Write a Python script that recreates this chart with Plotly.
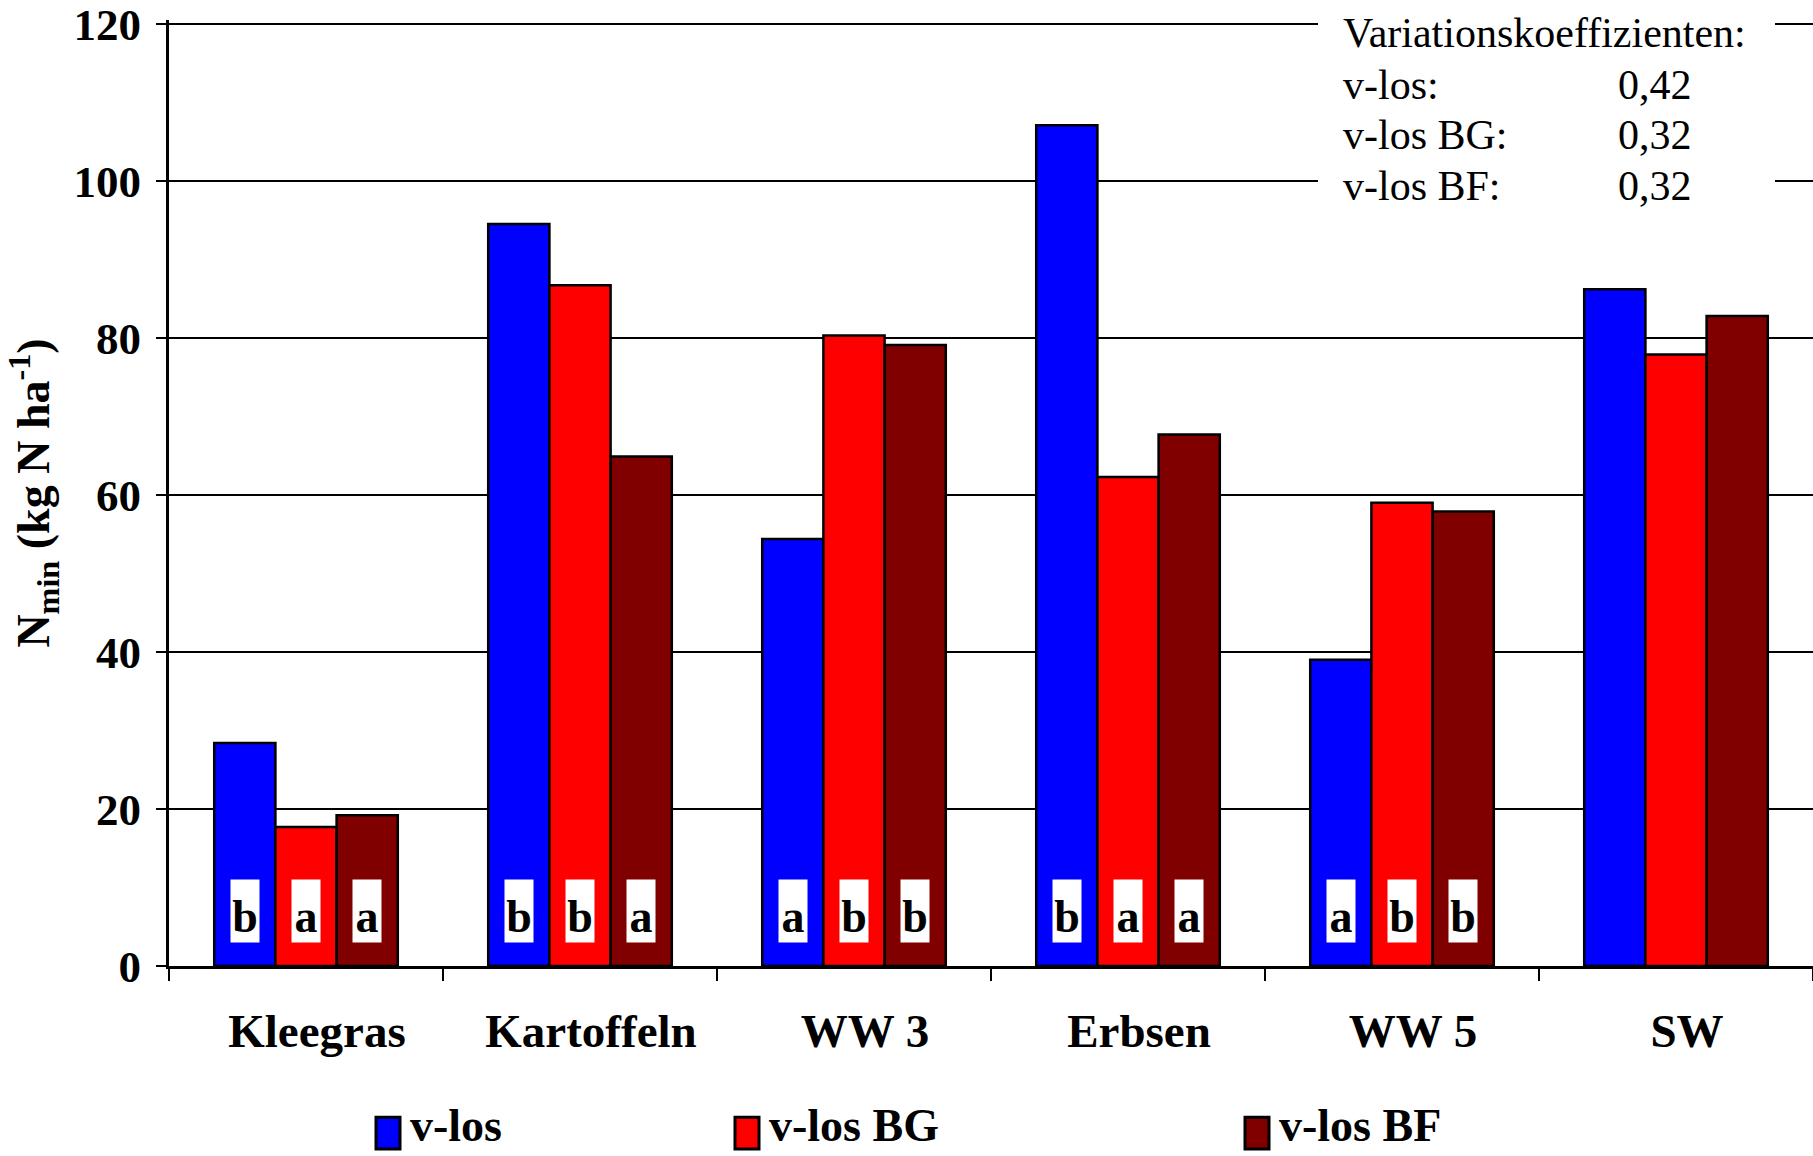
import plotly.graph_objects as go

categories = ["Kleegras", "Kartoffeln", "WW 3", "Erbsen", "WW 5", "SW"]
series_names = ["v-los", "v-los BG", "v-los BF"]
v_los = [28.4, 94.5, 54.4, 107.1, 39.0, 86.2]
v_los_bg = [17.7, 86.7, 80.3, 62.3, 59.0, 77.9]
v_los_bf = [19.2, 64.9, 79.1, 67.7, 57.9, 82.8]
letters_v_los = ["b", "b", "a", "b", "a", ""]
letters_bg = ["a", "b", "b", "a", "b", ""]
letters_bf = ["a", "a", "b", "a", "b", ""]
cv_labels = ["v-los:", "v-los BG:", "v-los BF:"]
cv_values = ["0,42", "0,32", "0,32"]
y_ticks = [0, 20, 40, 60, 80, 100, 120]

colors = ["#0000FF", "#FF0000", "#800000"]
SERIF = "Liberation Serif, Times New Roman, serif"

W, H = 1813, 1156
YMAX = 120.5
ML, MR, MB = 169, 0, 190
PH = (H - MB - 19.0) * YMAX / 120
MT = H - MB - PH
PW = W - ML - MR

def px_x(x):
    return (x - ML) / PW

def px_y(y):
    return (H - MB - y) / PH

fig = go.Figure()
values = [v_los, v_los_bg, v_los_bf]
for name, vals, col in zip(series_names, values, colors):
    fig.add_trace(go.Bar(
        x=categories, y=vals, name=name,
        marker=dict(color=col, line=dict(color="black", width=2.5)),
        showlegend=False,
    ))

bargap = 0.33
bw = (1 - bargap) / 3
letters = [letters_v_los, letters_bg, letters_bf]
for si, lets in enumerate(letters):
    off = (si - 1) * bw
    for ci, t in enumerate(lets):
        if not t:
            continue
        fig.add_annotation(
            x=ci + off, y=7.0, xref="x", yref="y", text=t, showarrow=False,
            font=dict(family=SERIF, size=46, color="black", weight="bold"),
            bgcolor="white", borderpad=0, width=28, height=62,
            xanchor="center", yanchor="middle", valign="bottom",
        )

# white box behind variation coefficients
fig.add_shape(type="rect", xref="paper", yref="paper",
              x0=px_x(1318), x1=px_x(1775), y0=px_y(192), y1=1.03,
              fillcolor="white", line=dict(width=0), layer="above")

fig.add_annotation(x=px_x(1341), y=px_y(28), xref="paper", yref="paper",
                   text="Variationskoeffizienten:", showarrow=False,
                   xanchor="left", yanchor="middle",
                   font=dict(family=SERIF, size=42, color="black"))
for i, (lab, val) in enumerate(zip(cv_labels, cv_values)):
    yy = px_y(80 + i * 51)
    fig.add_annotation(x=px_x(1341), y=yy, xref="paper", yref="paper",
                       text=lab, showarrow=False, xanchor="left", yanchor="middle",
                       font=dict(family=SERIF, size=42, color="black"))
    fig.add_annotation(x=px_x(1694), y=yy, xref="paper", yref="paper",
                       text=val, showarrow=False, xanchor="right", yanchor="middle",
                       font=dict(family=SERIF, size=42, color="black"))

# custom legend
leg_x = [376, 735, 1245]
for name, col, lx in zip(series_names, colors, leg_x):
    fig.add_shape(type="rect", xref="paper", yref="paper",
                  x0=px_x(lx), x1=px_x(lx + 24), y0=px_y(1150), y1=px_y(1118),
                  fillcolor=col, line=dict(color="black", width=3))
    fig.add_annotation(x=px_x(lx + 32), y=px_y(1126), xref="paper", yref="paper",
                       text=name, showarrow=False, xanchor="left", yanchor="middle",
                       font=dict(family=SERIF, size=46, color="black", weight="bold"))

fig.update_layout(
    width=W, height=H,
    margin=dict(l=ML, r=MR, t=MT, b=MB, pad=0),
    paper_bgcolor="white", plot_bgcolor="white",
    barmode="group", bargap=bargap, bargroupgap=0,
    font=dict(family=SERIF, color="black"),
)
fig.update_xaxes(
    type="category", range=[-0.5, 5.5],
    showline=True, linecolor="black", linewidth=3,
    ticks="outside", tickson="boundaries", ticklen=12, tickwidth=2, tickcolor="black",
    tickfont=dict(family=SERIF, size=47, color="black", weight="bold"),
    ticklabelstandoff=22, ticklabelshift=11, showgrid=False,
)
fig.update_yaxes(
    range=[0, YMAX], tickvals=y_ticks,
    showline=True, linecolor="black", linewidth=3,
    ticks="outside", ticklen=10, tickwidth=2, tickcolor="black",
    showgrid=True, gridcolor="black", gridwidth=1.5,
    zeroline=False, ticklabeloverflow="allow", ticklabelstandoff=6,
    tickfont=dict(family=SERIF, size=45, color="black", weight="bold"),
    title=dict(text="N<sub>min</sub> (kg N ha<sup>-1</sup>)",
               font=dict(family=SERIF, size=46, color="black", weight="bold"),
               standoff=10),
)

fig.write_html("out.html")
